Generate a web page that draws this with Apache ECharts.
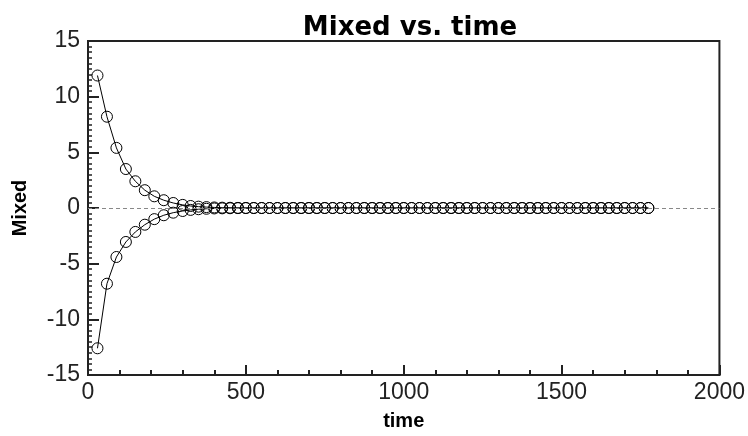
<!DOCTYPE html>
<html>
<head>
<meta charset="utf-8">
<script src="https://cdn.jsdelivr.net/npm/echarts@6/dist/echarts.min.js"></script>
<style>
    html, body { margin: 0; padding: 0; background: #fff; }
    #chart { width: 748px; height: 436px; }
</style>
</head>
<body>
<div id="chart"></div>
<script>
var times = [30, 60, 90, 120, 150, 180, 210, 240, 270,
    300, 325, 350, 375, 400, 425, 450, 475, 500, 525, 550, 575, 600, 625, 650, 675,
    700, 725, 750, 775, 800, 825, 850, 875, 900, 925, 950, 975, 1000, 1025, 1050, 1075,
    1100, 1125, 1150, 1175, 1200, 1225, 1250, 1275, 1300, 1325, 1350, 1375, 1400, 1425,
    1450, 1475, 1500, 1525, 1550, 1575, 1600, 1625, 1650, 1675, 1700, 1725, 1750, 1775];

var upper = [11.9, 8.2, 5.4, 3.5, 2.4, 1.6, 1.05, 0.7, 0.45,
    0.28, 0.18, 0.12, 0.08, 0.05, 0.03, 0.02, 0.01, 0, 0, 0, 0, 0, 0, 0, 0,
    0, 0, 0, 0, 0, 0, 0, 0, 0, 0, 0, 0, 0, 0, 0, 0,
    0, 0, 0, 0, 0, 0, 0, 0, 0, 0, 0, 0, 0, 0,
    0, 0, 0, 0, 0, 0, 0, 0, 0, 0, 0, 0, 0, 0];

var lower = [-12.6, -6.8, -4.4, -3.05, -2.15, -1.5, -1.0, -0.65, -0.42,
    -0.27, -0.17, -0.11, -0.07, -0.04, -0.03, -0.02, -0.01, 0, 0, 0, 0, 0, 0, 0, 0,
    0, 0, 0, 0, 0, 0, 0, 0, 0, 0, 0, 0, 0, 0, 0, 0,
    0, 0, 0, 0, 0, 0, 0, 0, 0, 0, 0, 0, 0, 0,
    0, 0, 0, 0, 0, 0, 0, 0, 0, 0, 0, 0, 0, 0];

var xTicks = [0, 500, 1000, 1500, 2000];
var yTicks = [-15, -10, -5, 0, 5, 10, 15];

function pairs(vals) {
    return times.map(function (t, i) { return [t, vals[i]]; });
}

var chart = echarts.init(document.getElementById('chart'), null, { renderer: 'canvas' });

var seriesTpl = {
    type: 'line',
    symbol: 'circle',
    symbolSize: 11,
    showAllSymbol: true,
    animation: false,
    lineStyle: { color: '#000', width: 1 },
    itemStyle: { color: 'rgba(0,0,0,0)', borderColor: '#000', borderWidth: 1 }
};

var option = {
    backgroundColor: '#fff',
    animation: false,
    title: {
        text: 'Mixed vs. time',
        left: 405,
        textAlign: 'center',
        top: 10,
        textStyle: { fontFamily: 'DejaVu Sans', fontSize: 26, fontWeight: 'bold', color: '#000' }
    },
    grid: {
        left: 88, right: 27, top: 41, bottom: 51,
        show: true,
        borderColor: '#222',
        borderWidth: 2
    },
    xAxis: {
        type: 'value',
        min: xTicks[0],
        max: xTicks[xTicks.length - 1],
        interval: 500,
        name: 'time',
        nameLocation: 'middle',
        nameGap: 36,
        nameTextStyle: { fontFamily: 'Liberation Sans', fontSize: 20, fontWeight: 'bold', color: '#000' },
        axisLine: { onZero: false, lineStyle: { color: '#222', width: 2 } },
        axisTick: { inside: true, length: 10, lineStyle: { color: '#222', width: 2 } },
        minorTick: { show: true, splitNumber: 5, length: 5, lineStyle: { color: '#222', width: 2 } },
        splitLine: { show: false },
        axisLabel: {
            fontFamily: 'Liberation Sans', fontSize: 23, color: '#222', margin: 6,
            formatter: function (v) { return String(v); }
        }
    },
    yAxis: {
        type: 'value',
        min: yTicks[0],
        max: yTicks[yTicks.length - 1],
        interval: 5,
        name: 'Mixed',
        nameLocation: 'middle',
        nameGap: 58,
        nameTextStyle: { fontFamily: 'Liberation Sans', fontSize: 20, fontWeight: 'bold', color: '#000' },
        axisLine: { onZero: false, lineStyle: { color: '#222', width: 2 } },
        axisTick: { inside: true, length: 11, lineStyle: { color: '#222', width: 2 } },
        minorTick: { show: true, splitNumber: 10, length: 4, lineStyle: { color: '#222', width: 1.5 } },
        splitLine: { show: false },
        axisLabel: {
            fontFamily: 'Liberation Sans', fontSize: 23, color: '#222', margin: 8,
            formatter: function (v) { return String(v); }
        }
    },
    series: [
        Object.assign({}, seriesTpl, {
            name: 'upper',
            data: pairs(upper),
            markLine: {
                silent: true,
                symbol: 'none',
                label: { show: false },
                lineStyle: { color: '#888', type: [4, 3], width: 1 },
                data: [{ yAxis: 0 }]
            }
        }),
        Object.assign({}, seriesTpl, {
            name: 'lower',
            data: pairs(lower)
        })
    ]
};

chart.setOption(option);
</script>
</body>
</html>
